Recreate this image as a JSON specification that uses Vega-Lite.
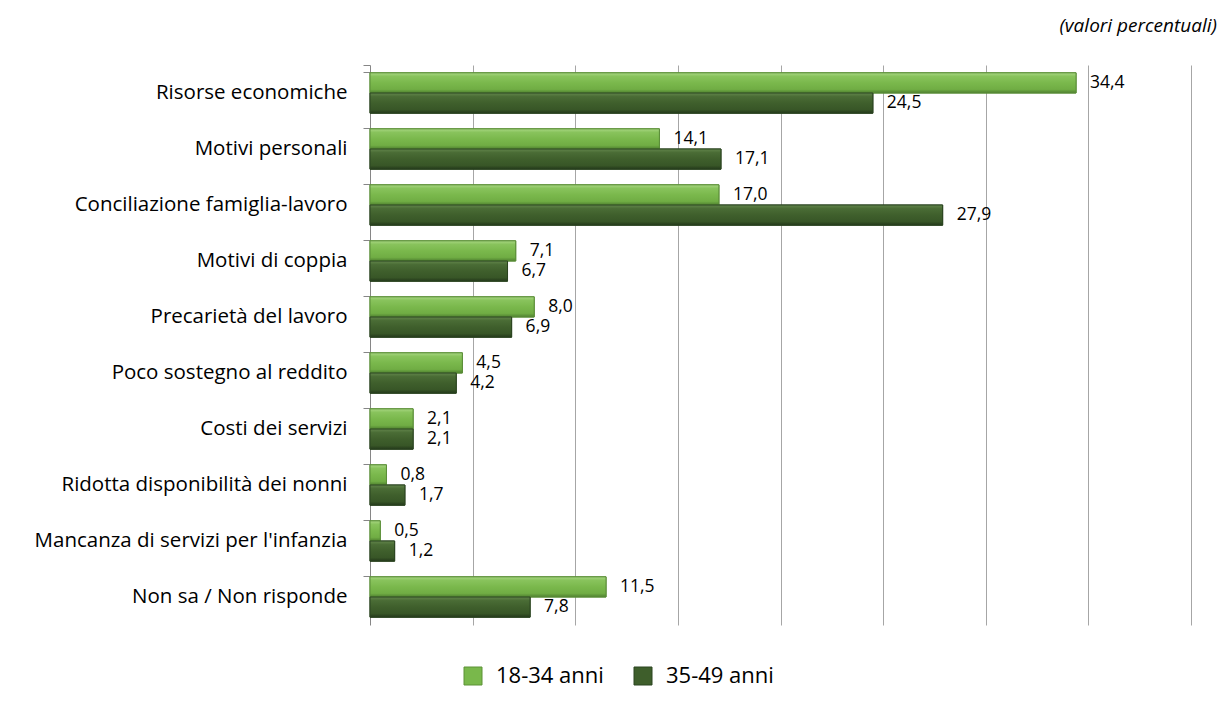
{
  "$schema": "https://vega.github.io/schema/vega-lite/v6.json",
  "width": 821,
  "height": 560,
  "autosize": {"type": "none"},
  "padding": {"left": 370, "top": 65, "right": 30, "bottom": 84},
  "background": "white",
  "config": {
    "locale": {"number": {"decimal": ",", "thousands": ".", "grouping": [3], "currency": ["€", ""]}},
    "view": {"stroke": null},
    "font": "Open Sans"
  },
  "title": {
    "text": "(valori percentuali)",
    "anchor": "end",
    "fontStyle": "italic",
    "fontWeight": "normal",
    "fontSize": 19,
    "color": "#000000",
    "offset": 19,
    "dx": 26
  },
  "data": {
    "values": [
      {"cat": "Risorse economiche", "serie": "18-34 anni", "v": 34.4},
      {"cat": "Risorse economiche", "serie": "35-49 anni", "v": 24.5},
      {"cat": "Motivi personali", "serie": "18-34 anni", "v": 14.1},
      {"cat": "Motivi personali", "serie": "35-49 anni", "v": 17.1},
      {"cat": "Conciliazione famiglia-lavoro", "serie": "18-34 anni", "v": 17.0},
      {"cat": "Conciliazione famiglia-lavoro", "serie": "35-49 anni", "v": 27.9},
      {"cat": "Motivi di coppia", "serie": "18-34 anni", "v": 7.1},
      {"cat": "Motivi di coppia", "serie": "35-49 anni", "v": 6.7},
      {"cat": "Precarietà del lavoro", "serie": "18-34 anni", "v": 8.0},
      {"cat": "Precarietà del lavoro", "serie": "35-49 anni", "v": 6.9},
      {"cat": "Poco sostegno al reddito", "serie": "18-34 anni", "v": 4.5},
      {"cat": "Poco sostegno al reddito", "serie": "35-49 anni", "v": 4.2},
      {"cat": "Costi dei servizi", "serie": "18-34 anni", "v": 2.1},
      {"cat": "Costi dei servizi", "serie": "35-49 anni", "v": 2.1},
      {"cat": "Ridotta disponibilità dei nonni", "serie": "18-34 anni", "v": 0.8},
      {"cat": "Ridotta disponibilità dei nonni", "serie": "35-49 anni", "v": 1.7},
      {"cat": "Mancanza di servizi per l'infanzia", "serie": "18-34 anni", "v": 0.5},
      {"cat": "Mancanza di servizi per l'infanzia", "serie": "35-49 anni", "v": 1.2},
      {"cat": "Non sa / Non risponde", "serie": "18-34 anni", "v": 11.5},
      {"cat": "Non sa / Non risponde", "serie": "35-49 anni", "v": 7.8}
    ]
  },
  "encoding": {
    "y": {
      "field": "cat",
      "type": "nominal",
      "sort": null,
      "title": null,
      "scale": {"paddingInner": 0.28, "paddingOuter": 0.14},
      "axis": {
        "bandPosition": 0,
        "tickExtra": true,
        "tickSize": 7,
        "tickColor": "#868686",
        "domainColor": "#868686",
        "labelPadding": 16,
        "labelFontSize": 20.5,
        "labelLimit": 0,
        "labelColor": "#000000",
        "labelFont": "Open Sans"
      }
    },
    "yOffset": {"field": "serie", "type": "nominal", "scale": {"paddingInner": 0, "paddingOuter": 0}},
    "x": {
      "field": "v",
      "type": "quantitative",
      "title": null,
      "scale": {"domain": [0, 40], "nice": false},
      "axis": {
        "values": [5, 10, 15, 20, 25, 30, 35, 40],
        "labels": false,
        "ticks": false,
        "domain": false,
        "grid": true,
        "gridColor": "#a6a6a6",
        "gridWidth": 1
      }
    }
  },
  "layer": [
    {
      "mark": {"type": "bar", "strokeWidth": 1},
      "encoding": {
        "color": {
          "field": "serie",
          "type": "nominal",
          "title": null,
          "scale": {"domain": ["18-34 anni", "35-49 anni"], "range": ["#79b84b", "#3e5e2b"]},
          "legend": {
            "orient": "none",
            "legendX": 92,
            "legendY": 600,
            "direction": "horizontal",
            "symbolType": "square",
            "symbolSize": 324,
            "symbolStrokeColor": "#2f4a20",
            "symbolStrokeWidth": 1,
            "labelFontSize": 22,
            "labelColor": "#000000",
            "labelFont": "Open Sans",
            "columnPadding": 28,
            "labelOffset": 12
          }
        },
        "stroke": {
          "field": "serie",
          "type": "nominal",
          "scale": {"domain": ["18-34 anni", "35-49 anni"], "range": ["#5d9237", "#2b4420"]},
          "legend": null
        }
      }
    },
    {
      "transform": [{"filter": "datum.serie === '18-34 anni'"}],
      "mark": {
        "type": "bar",
        "stroke": "#5a8c38",
        "strokeWidth": 1,
        "fill": {
          "gradient": "linear", "x1": 0, "y1": 0, "x2": 0, "y2": 1,
          "stops": [
            {"offset": 0, "color": "#a8d682"},
            {"offset": 0.18, "color": "#88c35c"},
            {"offset": 0.5, "color": "#7ab84c"},
            {"offset": 0.82, "color": "#70ad44"},
            {"offset": 1, "color": "#4f8030"}
          ]
        }
      }
    },
    {
      "transform": [{"filter": "datum.serie === '35-49 anni'"}],
      "mark": {
        "type": "bar",
        "stroke": "#2b4420",
        "strokeWidth": 1,
        "fill": {
          "gradient": "linear", "x1": 0, "y1": 0, "x2": 0, "y2": 1,
          "stops": [
            {"offset": 0, "color": "#62854b"},
            {"offset": 0.18, "color": "#4a6c35"},
            {"offset": 0.5, "color": "#3f5f2c"},
            {"offset": 0.82, "color": "#385627"},
            {"offset": 1, "color": "#24391a"}
          ]
        }
      }
    },
    {
      "mark": {"type": "text", "align": "left", "baseline": "middle", "dx": 14, "fontSize": 17.5, "color": "#000000", "font": "Open Sans"},
      "encoding": {
        "text": {"field": "v", "type": "quantitative", "format": ".1f"}
      }
    }
  ]
}
